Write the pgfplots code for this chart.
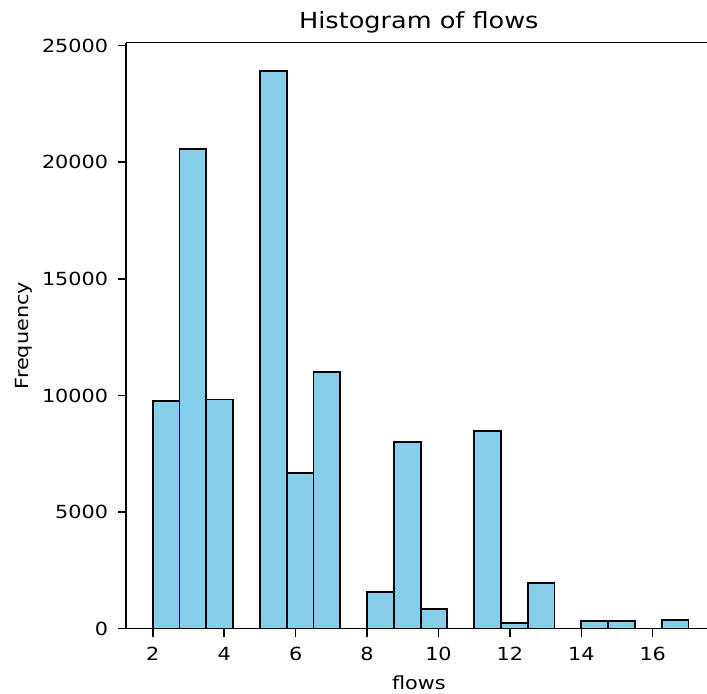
\documentclass[border=0pt]{standalone}
\usepackage{fontspec}
\setmainfont{DejaVu Sans}[FakeStretch=1.15]
\usepackage{pgfplots}
\pgfplotsset{compat=1.18}
\definecolor{skyblue}{RGB}{135,206,235}

\begin{document}
\begin{tikzpicture}
% page = 707x694 px at 0.72bp per px, axis lower-left at (0,0)
\useasboundingbox (-90.72bp,-47.0bp) rectangle (418.32bp,452.66bp);
\begin{axis}[
  scale only axis, width=418.32bp, height=421.92bp,
  xmin=1.25, xmax=17.52, ymin=0, ymax=25127,
  axis x line*=box, axis y line*=left,
  axis line style={line width=1.1bp},
  xtick={2,4,...,16}, ytick={0,5000,...,25000},
  tick align=outside, xtick pos=bottom, ytick pos=left,
  major tick length=5.8bp, tick style={line width=1.1bp, black},
  scaled y ticks=false,
  /pgf/number format/1000 sep={},
  /pgf/number format/assume math mode=true,
  tick label style={font=\fontsize{13bp}{15bp}\selectfont},
  xticklabel style={anchor=base, yshift=-17.4bp},
  yticklabel style={anchor=east, inner sep=0pt, xshift=-6.9bp},
  title={Histogram of flows},
  title style={font=\fontsize{16bp}{18bp}\selectfont, at={(axis description cs:0.504,1)}, anchor=base, yshift=4.4bp},
  xlabel={flows},
  xlabel style={font=\fontsize{13bp}{15bp}\selectfont, at={(axis description cs:0.504,0)}, anchor=base, yshift=-44.1bp},
  ylabel={Frequency},
  ylabel style={font=\fontsize{13bp}{15bp}\selectfont, at={(axis description cs:-0.1764,0.5)}, anchor=center},
]
\addplot[ybar interval, fill=skyblue, draw=black, line width=1.3bp] coordinates {
  (2,9770) (2.75,20560) (3.5,9830) (4.25,0) (5,23930) (5.75,6690)
  (6.5,11000) (7.25,0) (8,1570) (8.75,8000) (9.5,840) (10.25,0)
  (11,8460) (11.75,260) (12.5,1960) (13.25,0) (14,330) (14.75,330)
  (15.5,0) (16.25,390) (17,390)
};
\end{axis}
\end{tikzpicture}
\end{document}
